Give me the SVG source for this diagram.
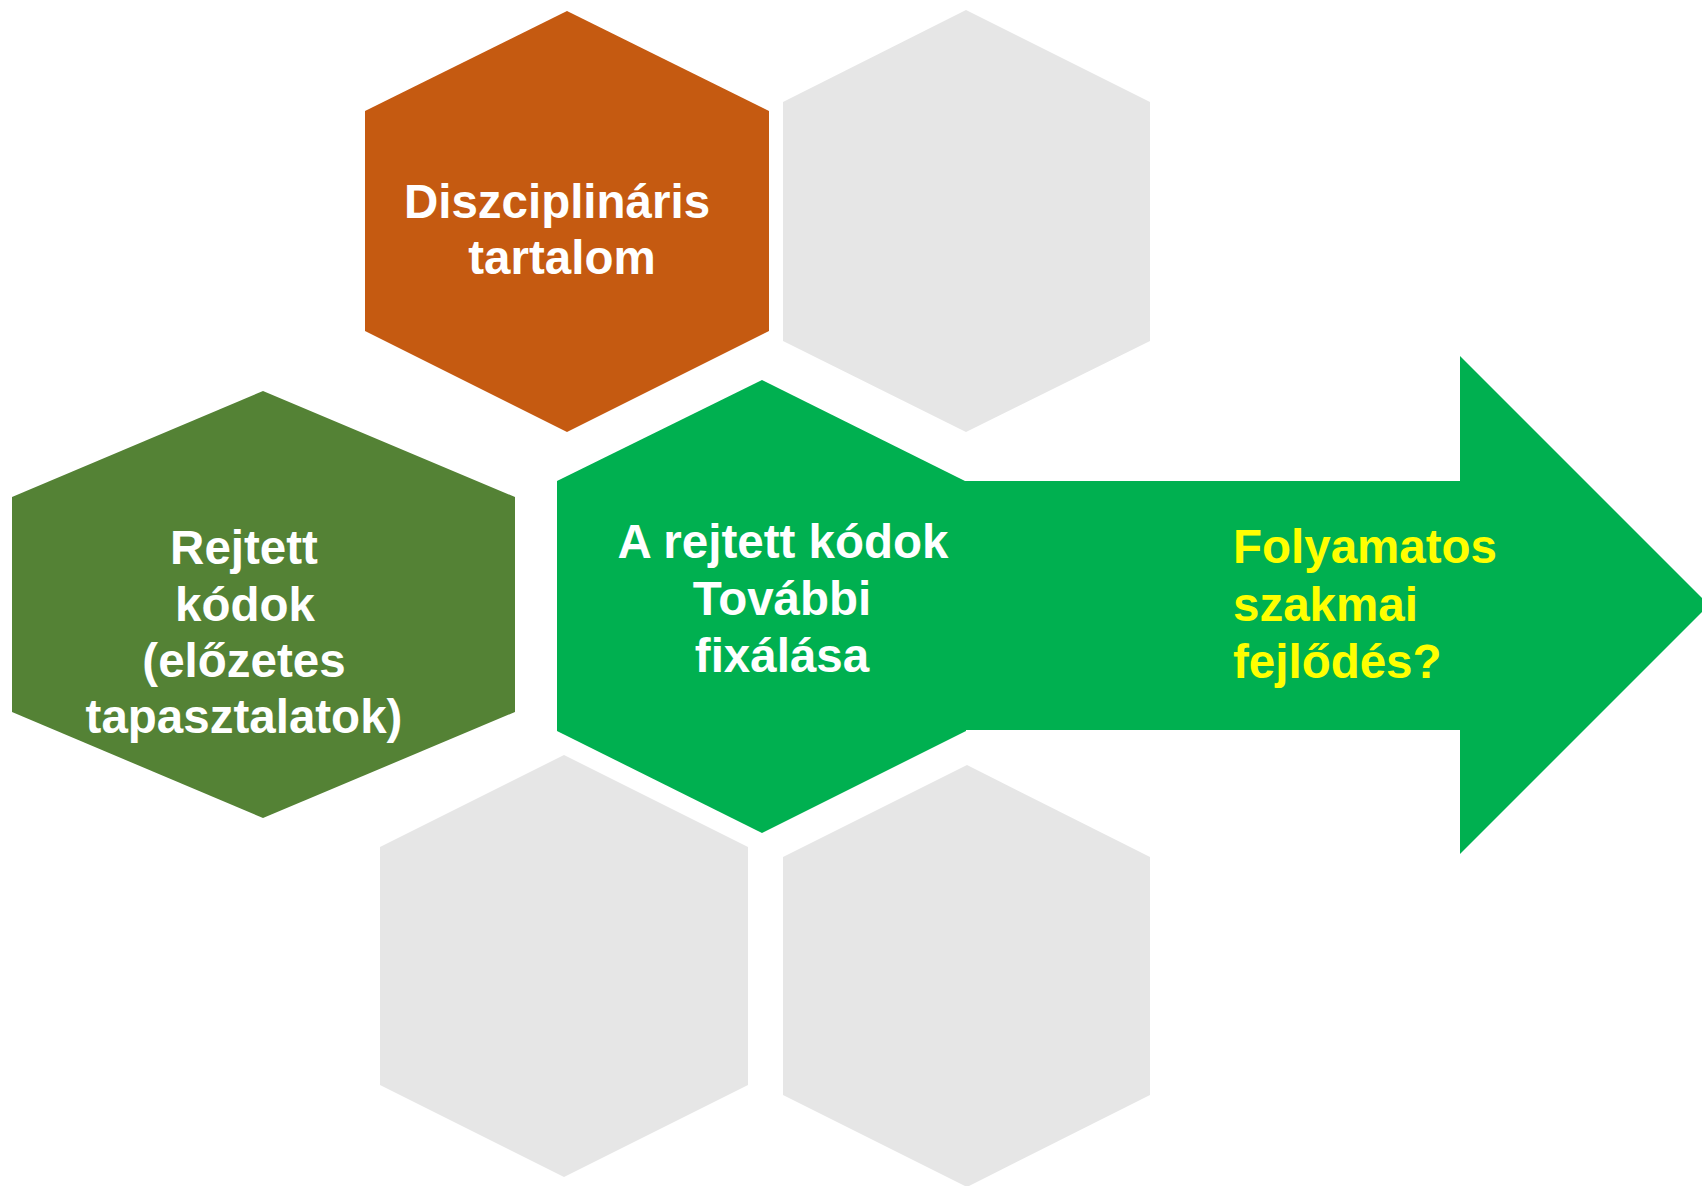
<svg xmlns="http://www.w3.org/2000/svg" width="1702" height="1186" viewBox="0 0 1702 1186">
<style>
.t{font-family:"Liberation Sans",Arial,sans-serif;font-weight:bold;font-size:47.5px;fill:#FFFFFF}
.y{fill:#FFFF00}
.gray{fill:#E6E6E6}
</style>
<rect width="1702" height="1186" fill="#FFFFFF"/>
<g id="hex-gray-top-right"><polygon class="gray" points="966,10 1150,102 1150,341 966,432 783,341 783,102"/></g>
<g id="hex-gray-bottom-left"><polygon class="gray" points="564,755 748,847 748,1085 564,1177 380,1085 380,847"/></g>
<g id="hex-gray-bottom-right"><polygon class="gray" points="967,765 1150,857 1150,1095 967,1187 783,1095 783,857"/></g>
<g id="hex-orange">
<polygon fill="#C55A11" points="567,11 769,111 769,331 567,432 365,331 365,111"/>
<text class="t" x="557" y="218" text-anchor="middle">Diszciplináris</text>
<text class="t" x="562" y="274" text-anchor="middle">tartalom</text>
</g>
<g id="hex-darkgreen">
<polygon fill="#548235" points="263,391 515,497 515,712 263,818 12,712 12,497"/>
<text class="t" x="244" y="564" text-anchor="middle">Rejtett</text>
<text class="t" x="245" y="621" text-anchor="middle">kódok</text>
<text class="t" x="244" y="677" text-anchor="middle">(előzetes</text>
<text class="t" x="244" y="733" text-anchor="middle">tapasztalatok)</text>
</g>
<g id="connectors">
<g id="arrow">
<polygon fill="#00B050" points="940,481 1460,481 1460,356 1709,605 1460,854 1460,730 940,730"/>
<text class="t y" x="1233" y="563">Folyamatos</text>
<text class="t y" x="1233" y="621">szakmai</text>
<text class="t y" x="1233" y="678">fejlődés?</text>
</g>
</g>
<g id="hex-green">
<polygon fill="#00B050" points="762,380 965,481 966,731 762,833 557,731 557,481"/>
<text class="t" x="783" y="558" text-anchor="middle">A rejtett kódok</text>
<text class="t" x="782" y="615" text-anchor="middle">További</text>
<text class="t" x="782" y="672" text-anchor="middle">fixálása</text>
</g>
</svg>
